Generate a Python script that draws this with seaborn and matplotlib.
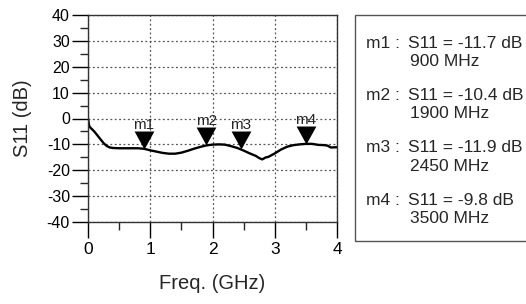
import numpy as np
import pandas as pd
import seaborn as sns
import matplotlib.pyplot as plt
from matplotlib.patches import Rectangle

# S11 trace
freq = [0, 0.02, 0.05, 0.1, 0.15, 0.2, 0.25, 0.3, 0.35, 0.4, 0.5, 0.6, 0.7, 0.8,
        0.9, 1.0, 1.1, 1.2, 1.3, 1.4, 1.5, 1.6, 1.7, 1.8, 1.9, 2.0, 2.1, 2.2,
        2.3, 2.4, 2.45, 2.5, 2.6, 2.7, 2.75, 2.8, 2.85, 2.9, 3.0, 3.1, 3.2,
        3.3, 3.4, 3.5, 3.6, 3.7, 3.8, 3.85, 3.9, 4.0]
s11 = [0, -3, -3.8, -5, -6.5, -8, -9.5, -10.6, -11.2, -11.4, -11.5, -11.5,
       -11.5, -11.5, -11.7, -12.3, -12.8, -13.3, -13.6, -13.6, -13.2, -12.5,
       -11.7, -11.0, -10.4, -10.1, -10.0, -10.1, -10.7, -11.4, -11.9, -12.4,
       -13.5, -14.5, -15.3, -15.8, -15.1, -14.8, -13.5, -12.0, -10.9, -10.3,
       -10.0, -9.8, -9.8, -10.2, -10.3, -10.5, -11.2, -11.1]

marker_names = ["m1", "m2", "m3", "m4"]
marker_freq = [0.9, 1.9, 2.45, 3.5]
marker_val = [-11.7, -10.4, -11.9, -9.8]
marker_mhz = ["900 MHz", "1900 MHz", "2450 MHz", "3500 MHz"]

sns.set_style("ticks")
plt.rcParams['font.family'] = ['Liberation Sans', 'DejaVu Sans']
plt.rcParams['axes.unicode_minus'] = False

fig = plt.figure(figsize=(5.26, 3.04), dpi=100)
ax = fig.add_axes([88 / 526, 1 - 222 / 304, (337 - 88) / 526, (222 - 15) / 304])

df = pd.DataFrame({"freq": freq, "s11": s11})
sns.lineplot(data=df, x="freq", y="s11", ax=ax, color="black", linewidth=1.7)

# inverted triangle with its tip on the data point
tri = [(-1.1, 2), (1.1, 2), (0, 0), (-1.1, 2)]
ax.scatter(marker_freq, marker_val, marker=tri, s=670, color="black", zorder=5,
           linewidths=0)
for name, f, v in zip(marker_names, marker_freq, marker_val):
    ax.annotate(name, (f, v), xytext=(0, 14.5), textcoords="offset points",
                ha="center", va="baseline", fontsize=11)

ax.set_xlim(0, 4)
ax.set_ylim(-40, 40)
ax.set_xticks([0, 1, 2, 3, 4])
ax.set_xticks([0.5, 1.5, 2.5, 3.5], minor=True)
ax.set_yticks(np.arange(-40, 41, 10))
ax.set_yticks(np.arange(-35, 40, 10), minor=True)
ax.tick_params(which="major", length=11.5, width=1, colors="black")
ax.tick_params(which="minor", length=5.5, width=1)
ax.tick_params(axis="y", which="major", labelsize=11.5, pad=1.5)
ax.tick_params(axis="x", which="major", labelsize=12.5, pad=3)
ax.grid(True, which="major", linestyle=(0, (1.5, 2)), color="#555555", linewidth=0.9)
for sp in ax.spines.values():
    sp.set_visible(True)
    sp.set_color("#333333")
    sp.set_linewidth(1)

ax.set_xlabel("Freq. (GHz)", fontsize=14.5, va="top")
ax.xaxis.set_label_coords(0.5, (222 - 274) / 207)
ax.set_ylabel("S11 (dB)", fontsize=14.5)
ax.yaxis.set_label_coords((32 - 88) / 249, 0.5)

# marker readout box (its right side runs off the image, as in the original)
fig.patches.append(Rectangle((355 / 526, 1 - 241 / 304), (540 - 355) / 526,
                             (241 - 15) / 304, transform=fig.transFigure,
                             fill=False, edgecolor="#555555", linewidth=1))
for i, (name, v, mhz) in enumerate(zip(marker_names, marker_val, marker_mhz)):
    y1 = 43 + i * 52.4
    fig.text(366.5 / 526, 1 - y1 / 304, f"{name} :", fontsize=12.5,
             va="center", ha="left")
    fig.text(408 / 526, 1 - y1 / 304, f"S11 = {v} dB", fontsize=12.5,
             va="center", ha="left")
    fig.text(410 / 526, 1 - (y1 + 18.5) / 304, mhz, fontsize=12.5,
             va="center", ha="left")

fig.savefig("out.png", dpi=100)
